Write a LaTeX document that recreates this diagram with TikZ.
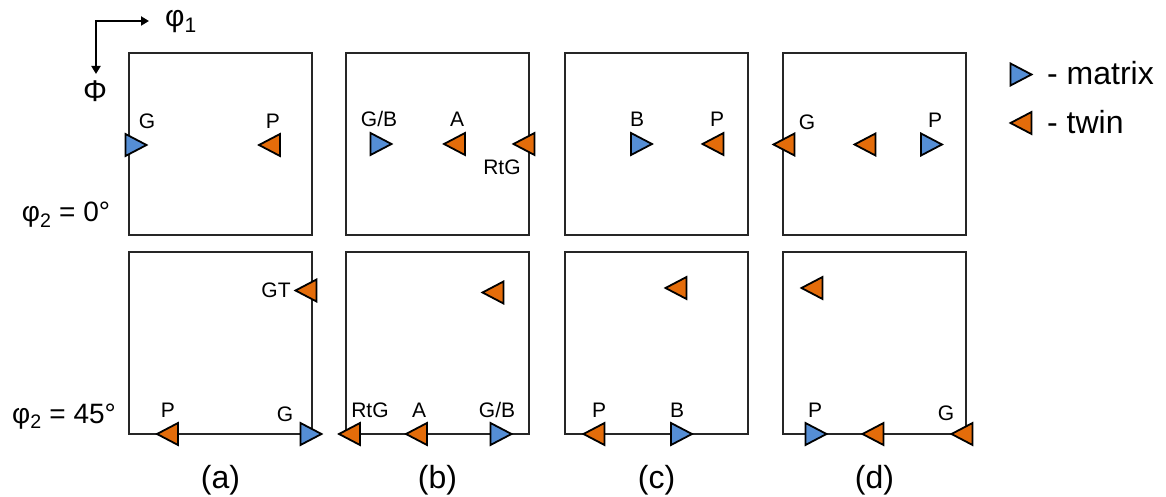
\documentclass[tikz,border=0pt]{standalone}
\usepackage{fontspec}
\setmainfont{Liberation Sans}
\usetikzlibrary{arrows.meta}

\definecolor{mblue}{RGB}{85,142,213}
\definecolor{torange}{RGB}{228,108,10}

\tikzset{
  box/.style={draw=black!85, line width=1.4bp},
  mark edge/.style={draw=black, line width=1.8bp, line join=miter},
  matrixmark/.pic={\path[mark edge, fill=mblue] (-10.5,-11) -- (10.5,0) -- (-10.5,11) -- cycle;},
  twinmark/.pic={\path[mark edge, fill=torange] (10.5,-11) -- (-10.5,0) -- (10.5,11) -- cycle;},
  lbl/.style={font=\fontsize{21bp}{25bp}\selectfont, inner sep=0pt, anchor=base},
  rowlbl/.style={font=\fontsize{28bp}{32bp}\selectfont, inner sep=0pt, anchor=base},
  panellbl/.style={font=\fontsize{32bp}{36bp}\selectfont, inner sep=0pt, anchor=base},
  legendlbl/.style={font=\fontsize{32bp}{36bp}\selectfont, inner sep=0pt, anchor=base west},
  axislbl/.style={font=\fontsize{30bp}{34bp}\selectfont, inner sep=0pt, anchor=base},
  axisarrow/.style={line width=2bp, {Triangle[length=8bp,width=9bp]}-{Triangle[length=8bp,width=9bp]}},
}

\begin{document}
\begin{tikzpicture}[x=1bp, y=-1bp]
\useasboundingbox (0,0) rectangle (1166,497);

% axis directions
\coordinate (ax0) at (96,21);
\coordinate (axr) at (149,21);
\coordinate (axd) at (96,74);
\draw[axisarrow] (axr) -- (ax0) -- (axd);
\node[axislbl] (phi1) at (181,27) {φ\textsubscript{1}};
\node[axislbl] (Phi) at (95,102) {Φ};

% row labels
\node[rowlbl] (row0) at (66,222) {φ\textsubscript{2} = 0°};
\node[rowlbl] (row45) at (64,423) {φ\textsubscript{2} = 45°};

% section boxes
\foreach \n/\x in {a/129, b/346, c/565, d/783} {
  \draw[box] (\x,53) rectangle ++(183,182);
  \draw[box] (\x,252) rectangle ++(183,182);
  \node[panellbl] (lbl-\n) at (\x+91.5,488) {(\n)};
}

% (a)
\pic at (136,145) {matrixmark};
\pic at (269.5,145) {twinmark};
\node[lbl] (a1) at (147,129) {G};
\node[lbl] (a2) at (273,129) {P};
\pic at (306,290.5) {twinmark};
\pic at (167.5,434) {twinmark};
\pic at (311,434) {matrixmark};
\node[lbl] (a3) at (276,298) {GT};
\node[lbl] (a4) at (168,417) {P};
\node[lbl] (a5) at (285,421) {G};

% (b)
\pic at (381,144) {matrixmark};
\pic at (454.5,144) {twinmark};
\pic at (524,144) {twinmark};
\node[lbl] (b1) at (379,127) {G/B};
\node[lbl] (b2) at (457,127) {A};
\node[lbl] (b3) at (502,175) {RtG};
\pic at (493,292.5) {twinmark};
\pic at (349.5,434) {twinmark};
\pic at (416.5,434) {twinmark};
\pic at (501,434) {matrixmark};
\node[lbl] (b4) at (370,417) {RtG};
\node[lbl] (b5) at (419,417) {A};
\node[lbl] (b6) at (497,417) {G/B};

% (c)
\pic at (641.5,144) {matrixmark};
\pic at (713,144) {twinmark};
\node[lbl] (c1) at (637,127) {B};
\node[lbl] (c2) at (717,127) {P};
\pic at (676,288) {twinmark};
\pic at (594,434) {twinmark};
\pic at (681.5,434) {matrixmark};
\node[lbl] (c3) at (599,417) {P};
\node[lbl] (c4) at (677,417) {B};

% (d)
\pic at (784,144.5) {twinmark};
\pic at (865,144.5) {twinmark};
\pic at (931.5,144.5) {matrixmark};
\node[lbl] (d1) at (807,130) {G};
\node[lbl] (d2) at (935,128) {P};
\pic at (812,288) {twinmark};
\pic at (816,434) {matrixmark};
\pic at (873,434) {twinmark};
\pic at (962,434) {twinmark};
\node[lbl] (d3) at (815,417) {P};
\node[lbl] (d4) at (946,420) {G};

% legend
\pic at (1021,74.5) {matrixmark};
\pic at (1021,123) {twinmark};
\node[legendlbl] (legm) at (1047,85) {- matrix};
\node[legendlbl] (legt) at (1047,134) {- twin};
\end{tikzpicture}
\end{document}
